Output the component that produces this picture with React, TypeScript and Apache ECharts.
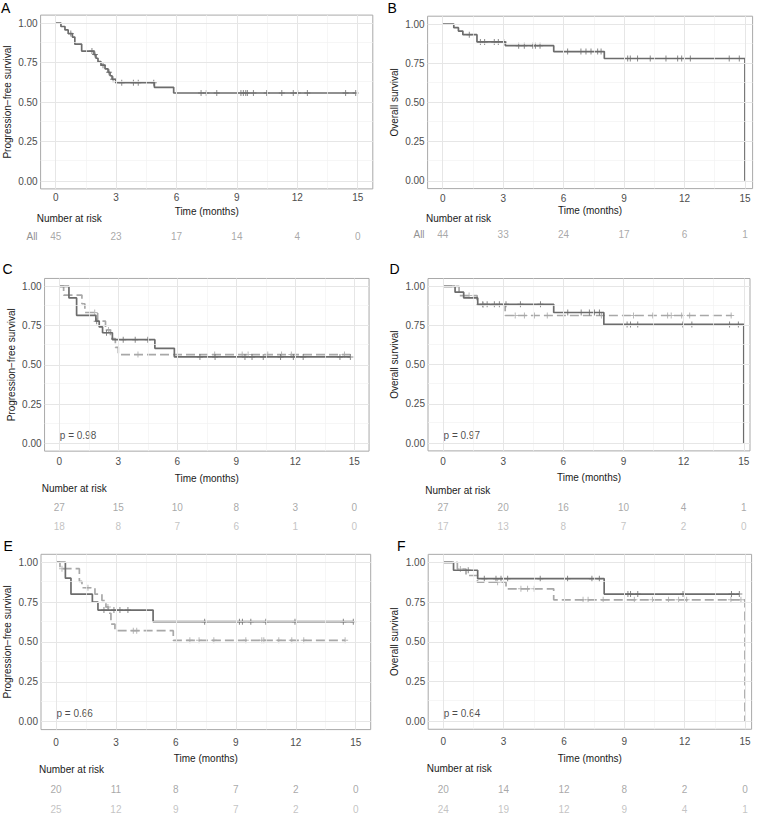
import React, { useEffect, useRef } from 'react';
import * as echarts from 'echarts';

// ---------- axis ticks ----------
const TIME_TICKS = [0, 3, 6, 9, 12, 15];
const TIME_MINOR = [1.5, 4.5, 7.5, 10.5, 13.5];
const SURV_TICKS = [0, 0.25, 0.5, 0.75, 1];
const SURV_MINOR = [0.125, 0.375, 0.625, 0.875];

// ---------- Panel A: PFS, all ----------
const pfsAllTimes = [0, 0.26, 0.46, 0.62, 0.83, 0.95, 1.29, 1.9, 2.0, 2.1, 2.25, 2.45, 2.6, 2.7, 2.8, 2.98, 4.9, 5.86, 14.9];
const pfsAllSurv = [1, 0.978, 0.956, 0.933, 0.911, 0.866, 0.822, 0.8, 0.777, 0.755, 0.733, 0.71, 0.688, 0.666, 0.644, 0.622, 0.593, 0.557, 0.557];
const pfsAllCensor = [0.75, 1.8, 1.95, 2.35, 2.65, 2.85, 3.28, 3.86, 4.1, 4.87, 7.22, 7.48, 8.0, 9.2, 9.32, 9.44, 9.52, 9.82, 10.48, 11.23, 11.8, 12.02, 12.5, 14.4, 14.9];
const pfsAllRisk = [45, 23, 17, 14, 4, 0];

// ---------- Panel B: OS, all ----------
const osAllTimes = [0, 0.55, 0.78, 1.0, 1.7, 3.11, 5.51, 8.02, 15.0];
const osAllSurv = [1, 0.977, 0.955, 0.932, 0.886, 0.862, 0.824, 0.78, 0];
const osAllCensor = [1.32, 1.87, 2.08, 2.56, 2.76, 3.03, 3.77, 4.05, 4.47, 4.6, 4.83, 6.2, 6.86, 7.11, 7.36, 7.69, 7.86, 9.18, 9.31, 9.67, 10.3, 11.08, 11.66, 11.86, 12.29, 14.22, 14.72];
const osAllRisk = [44, 33, 24, 17, 6, 1];

// ---------- Panel C: PFS by group ----------
const pfsG1Times = [0, 0.49, 0.88, 1.86, 2.03, 2.2, 2.7, 4.86, 5.85, 14.8];
const pfsG1Surv = [1, 0.926, 0.815, 0.778, 0.741, 0.704, 0.66, 0.605, 0.55, 0.55];
const pfsG1Censor = [1.9, 2.4, 3.25, 3.86, 4.5, 7.15, 7.92, 9.44, 9.8, 10.37, 11.25, 11.9, 12.4, 14.27, 14.8];
const pfsG1Risk = [27, 15, 10, 8, 3, 0];
const pfsG2Times = [0, 0.22, 1.15, 1.3, 1.95, 2.35, 2.6, 2.85, 3.0, 14.8];
const pfsG2Surv = [1, 0.944, 0.889, 0.833, 0.778, 0.722, 0.667, 0.611, 0.565, 0.565];
const pfsG2Censor = [1.8, 2.5, 4.0, 7.9, 9.3, 9.6, 10.6, 11.3, 11.8, 14.5];
const pfsG2Risk = [18, 8, 7, 6, 1, 0];
const pfsP = 'p = 0.98';

// ---------- Panel D: OS by group ----------
const osG1Times = [0, 0.6, 1.03, 1.73, 5.52, 8.02, 15.0];
const osG1Surv = [1, 0.963, 0.926, 0.885, 0.833, 0.757, 0];
const osG1Censor = [1.98, 2.2, 2.56, 2.81, 3.14, 3.86, 4.86, 6.22, 6.89, 7.3, 7.55, 7.8, 9.18, 9.35, 9.71, 11.96, 12.41, 14.29, 14.73];
const osG1Risk = [27, 20, 16, 10, 4, 1];
const osG2Times = [0, 0.8, 1.7, 3.1, 14.4];
const osG2Surv = [1, 0.941, 0.882, 0.814, 0.814];
const osG2Censor = [1.3, 2.0, 3.6, 4.06, 4.56, 5.2, 7.9, 9.5, 10.46, 11.2, 11.38, 11.9, 12.3, 14.37];
const osG2Risk = [17, 13, 8, 7, 2, 0];
const osP = 'p = 0.97';

// ---------- Panel E: PFS by group (second split) ----------
const pfsH1Times = [0, 0.47, 0.75, 1.82, 2.1, 4.86, 14.88];
const pfsH1Surv = [1, 0.9, 0.8, 0.75, 0.7, 0.627, 0.627];
const pfsH1Censor = [2.4, 2.9, 3.2, 3.6, 7.44, 9.18, 9.33, 9.75, 10.5, 11.96, 14.38, 14.88];
const pfsH1Risk = [20, 11, 8, 7, 2, 0];
const pfsH2Times = [0, 0.2, 1.17, 1.3, 1.95, 2.3, 2.5, 2.62, 2.75, 2.95, 5.87, 14.47];
const pfsH2Surv = [1, 0.96, 0.88, 0.84, 0.8, 0.76, 0.72, 0.68, 0.612, 0.571, 0.51, 0.51];
const pfsH2Censor = [0.3, 1.6, 2.6, 3.87, 4.04, 6.7, 7.16, 7.9, 9.5, 10.3, 10.4, 11.15, 11.8, 12.4, 14.47];
const pfsH2Risk = [25, 12, 9, 7, 2, 0];
const pfsHP = 'p = 0.66';

// ---------- Panel F: OS by group (second split) ----------
const osH1Times = [0, 0.51, 1.71, 8.0, 14.72];
const osH1Surv = [1, 0.95, 0.897, 0.8, 0.8];
const osH1Censor = [1.24, 2.04, 2.62, 2.87, 3.2, 4.82, 6.18, 7.39, 7.76, 9.18, 9.31, 9.67, 11.92, 14.33, 14.72];
const osH1Risk = [20, 14, 12, 8, 2, 0];
const osH2Times = [0, 0.7, 1.13, 1.7, 3.12, 5.49, 15.0];
const osH2Surv = [1, 0.958, 0.917, 0.875, 0.833, 0.764, 0];
const osH2Censor = [0.85, 2.7, 3.86, 4.19, 4.52, 6.95, 7.2, 7.95, 9.5, 10.4, 11.2, 11.7, 12.1, 14.3, 14.8];
const osH2Risk = [24, 19, 12, 9, 4, 1];
const osHP = 'p = 0.64';

// ---------- styles ----------
const FONT = 'Liberation Sans, Arial, Helvetica, sans-serif';
const SOLID_COLOR = '#6c6c6c';
const DASH_COLOR = '#a8a8a8';
const RISK1_COLOR = '#929292';
const RISK2_COLOR = '#b4b4b4';
const MAJOR_GRID = '#e6e6e6';
const MINOR_GRID = '#f2f2f2';
const BORDER = '#a9a9a9';
const PFS_TITLE = 'Progression\u2212free survival';
const OS_TITLE = 'Overall survival';
const PLUS = 'path://M-0.5,-3H0.5V-0.5H3V0.5H0.5V3H-0.5V0.5H-3V-0.5H-0.5Z';

type Group = { times: number[]; surv: number[]; censor: number[]; risk: number[]; dashed: boolean };

const PANELS: {
  letter: string; yTitle: string; groups: Group[]; p: string | null; rowLabel: string | null;
  L: any;
}[] = [
  {
    letter: 'A', yTitle: PFS_TITLE, p: null, rowLabel: 'All',
    groups: [{ times: pfsAllTimes, surv: pfsAllSurv, censor: pfsAllCensor, risk: pfsAllRisk, dashed: false }],
    L: { left: 40.6, width: 332.2, xmax: 15.75, top: 15.1, height: 173.8, lm: 4, ng: 17.5, lx: 1, ly: 8.5, nx: 36.7, ny: 219, rt: 226, rh: 20 },
  },
  {
    letter: 'B', yTitle: OS_TITLE, p: null, rowLabel: 'All',
    groups: [{ times: osAllTimes, surv: osAllSurv, censor: osAllCensor, risk: osAllRisk, dashed: false }],
    L: { left: 427.6, width: 325.0, xmax: 15.38, top: 16.2, height: 172.4, lm: 4.5, ng: 17, lx: 387.5, ly: 9, nx: 426, ny: 219, rt: 224.3, rh: 20 },
  },
  {
    letter: 'C', yTitle: PFS_TITLE, p: pfsP, rowLabel: null,
    groups: [
      { times: pfsG1Times, surv: pfsG1Surv, censor: pfsG1Censor, risk: pfsG1Risk, dashed: false },
      { times: pfsG2Times, surv: pfsG2Surv, censor: pfsG2Censor, risk: pfsG2Risk, dashed: true },
    ],
    L: { left: 44.55, width: 324.5, xmax: 15.75, top: 278.45, height: 172.7, lm: 5, ng: 22, lx: 2.5, ly: 270, nx: 41.7, ny: 489.3, rt: 497.6, rh: 38.8 },
  },
  {
    letter: 'D', yTitle: OS_TITLE, p: osP, rowLabel: null,
    groups: [
      { times: osG1Times, surv: osG1Surv, censor: osG1Censor, risk: osG1Risk, dashed: false },
      { times: osG2Times, surv: osG2Surv, censor: osG2Censor, risk: osG2Risk, dashed: true },
    ],
    L: { left: 428.0, width: 322.0, xmax: 15.31, top: 278.5, height: 172.4, lm: 6, ng: 22, lx: 389.5, ly: 270, nx: 425.3, ny: 491, rt: 498.2, rh: 38 },
  },
  {
    letter: 'E', yTitle: PFS_TITLE, p: pfsHP, rowLabel: null,
    groups: [
      { times: pfsH1Times, surv: pfsH1Surv, censor: pfsH1Censor, risk: pfsH1Risk, dashed: false },
      { times: pfsH2Times, surv: pfsH2Surv, censor: pfsH2Censor, risk: pfsH2Risk, dashed: true },
    ],
    L: { left: 41.0, width: 329.7, xmax: 15.75, top: 554.3, height: 175.3, lm: 7.5, ng: 24, lx: 3.5, ly: 546.5, nx: 39, ny: 770.7, rt: 779.3, rh: 40 },
  },
  {
    letter: 'F', yTitle: OS_TITLE, p: osHP, rowLabel: null,
    groups: [
      { times: osH1Times, surv: osH1Surv, censor: osH1Censor, risk: osH1Risk, dashed: false },
      { times: osH2Times, surv: osH2Surv, censor: osH2Censor, risk: osH2Risk, dashed: true },
    ],
    L: { left: 428.2, width: 323.4, xmax: 15.33, top: 554.35, height: 174.9, lm: 7.5, ng: 24.5, lx: 397, ly: 546.5, nx: 426.7, ny: 769.3, rt: 779.3, rh: 40 },
  },
];

function survAt(times: number[], surv: number[], t: number) {
  let s = 1;
  for (let i = 0; i < times.length; i++) if (times[i] <= t) s = surv[i];
  return s;
}

function buildOption() {
  const grid: any[] = [];
  const xAxis: any[] = [];
  const yAxis: any[] = [];
  const series: any[] = [];
  const graphic: any[] = [];
  const n = PANELS.length;

  PANELS.forEach((P, i) => {
    const L = P.L;
    // plot grid
    grid.push({
      left: L.left, top: L.top, width: L.width, height: L.height,
      show: true, borderColor: BORDER, borderWidth: 1, backgroundColor: '#ffffff',
      containLabel: false, outerBoundsMode: 'none',
    });
    xAxis.push({
      type: 'value', gridIndex: i, min: -0.75, max: L.xmax,
      name: 'Time (months)', nameLocation: 'middle', nameGap: L.ng,
      nameTextStyle: { color: '#1a1a1a', fontSize: 10, fontFamily: FONT },
      axisLine: { show: false },
      axisTick: { show: true, customValues: TIME_TICKS, length: 2.5, lineStyle: { color: BORDER, width: 1 } },
      axisLabel: { customValues: TIME_TICKS, margin: L.lm, color: '#4d4d4d', fontSize: 10, fontFamily: FONT },
      splitLine: { show: false }, minorSplitLine: { show: false },
    });
    yAxis.push({
      type: 'value', gridIndex: i, min: -0.05, max: 1.05,
      name: P.yTitle, nameLocation: 'middle', nameGap: 28.5,
      nameTextStyle: { color: '#1a1a1a', fontSize: 10, fontFamily: FONT },
      axisLine: { show: false },
      axisTick: { show: true, customValues: SURV_TICKS, length: 2.5, lineStyle: { color: BORDER, width: 1 } },
      axisLabel: { customValues: SURV_TICKS, margin: 3, color: '#4d4d4d', fontSize: 10, fontFamily: FONT,
        formatter: (v: number) => v.toFixed(2) },
      splitLine: { show: false },
    });
    // grid lines
    const ml = (key: string, vals: number[], color: string, width: number) =>
      vals.map((v) => ({ [key]: v, lineStyle: { color, width, type: 'solid' } }));
    series.push({
      type: 'line', xAxisIndex: i, yAxisIndex: i, data: [[-50, -50]], showSymbol: false,
      lineStyle: { width: 0, opacity: 0 }, silent: true, z: 1,
      markLine: {
        silent: true, symbol: ['none', 'none'], label: { show: false }, animation: false,
        data: [
          ...ml('xAxis', TIME_MINOR, MINOR_GRID, 0.7),
          ...ml('yAxis', SURV_MINOR, MINOR_GRID, 0.7),
          ...ml('xAxis', TIME_TICKS, MAJOR_GRID, 1),
          ...ml('yAxis', SURV_TICKS, MAJOR_GRID, 1),
        ],
      },
    });
    // curves (dashed drawn first so solid sits on top)
    const order = [...P.groups].sort((a, b) => (a.dashed === b.dashed ? 0 : a.dashed ? -1 : 1));
    order.forEach((g) => {
      const color = g.dashed ? DASH_COLOR : SOLID_COLOR;
      series.push({
        type: 'line', xAxisIndex: i, yAxisIndex: i, step: 'end', showSymbol: false, silent: true,
        data: g.times.map((t, k) => [t, g.surv[k]]),
        lineStyle: { color, width: 1.7, type: g.dashed ? [9, 4] : 'solid', cap: 'butt' },
        z: g.dashed ? 2 : 3,
      });
      series.push({
        type: 'scatter', xAxisIndex: i, yAxisIndex: i, symbol: PLUS, symbolSize: 6, silent: true,
        itemStyle: { color },
        data: g.censor.map((t) => [t, survAt(g.times, g.surv, t)]),
        z: g.dashed ? 2 : 3,
      });
    });
    if (P.p) {
      series.push({
        type: 'scatter', xAxisIndex: i, yAxisIndex: i, symbolSize: 1, silent: true,
        itemStyle: { color: 'rgba(0,0,0,0)' },
        data: [[0, 0.05]],
        label: { show: true, position: 'right', distance: 0, formatter: P.p, color: '#1a1a1a', fontSize: 10, fontFamily: FONT },
        z: 4,
      });
    }
    graphic.push({
      type: 'text', left: L.lx, top: L.ly - 8,
      style: { text: P.letter, fontSize: 14, fontFamily: FONT, fill: '#000000' },
    });
    graphic.push({
      type: 'text', left: L.nx, top: L.ny - 6,
      style: { text: 'Number at risk', fontSize: 10, fontFamily: FONT, fill: '#1a1a1a' },
    });
  });

  // risk tables
  PANELS.forEach((P, i) => {
    const L = P.L;
    const gi = n + i;
    const rows = P.groups.map((_, k) => String(k));
    grid.push({ left: L.left, top: L.rt, width: L.width, height: L.rh, show: false, containLabel: false, outerBoundsMode: 'none' });
    xAxis.push({ type: 'value', gridIndex: gi, min: -0.75, max: L.xmax, show: false });
    yAxis.push({
      type: 'category', gridIndex: gi, data: rows, inverse: true,
      axisLine: { show: false }, axisTick: { show: false }, splitLine: { show: false },
      axisLabel: P.rowLabel
        ? { show: true, formatter: () => P.rowLabel, color: RISK1_COLOR, fontSize: 10, fontFamily: FONT, margin: 3 }
        : { show: false },
    });
    P.groups.forEach((g, k) => {
      series.push({
        type: 'scatter', xAxisIndex: gi, yAxisIndex: gi, symbolSize: 1, silent: true,
        itemStyle: { color: 'rgba(0,0,0,0)' },
        data: TIME_TICKS.map((t, j) => [t, k, g.risk[j]]),
        label: {
          show: true, position: 'inside', formatter: (p: any) => String(p.value[2]),
          color: k === 0 ? RISK1_COLOR : RISK2_COLOR, fontSize: 10, fontFamily: FONT,
        },
      });
    });
  });

  return {
    animation: false,
    backgroundColor: '#ffffff',
    textStyle: { fontFamily: FONT },
    grid, xAxis, yAxis, series, graphic,
  };
}

export default function App() {
  const ref = useRef<HTMLDivElement>(null);
  useEffect(() => {
    if (!ref.current) return;
    const chart = echarts.init(ref.current, undefined, { renderer: 'svg' });
    chart.setOption(buildOption() as any);
    return () => chart.dispose();
  }, []);
  return <div ref={ref} style={{ position: 'absolute', left: 0, top: 0, width: 762, height: 816 }} />;
}
